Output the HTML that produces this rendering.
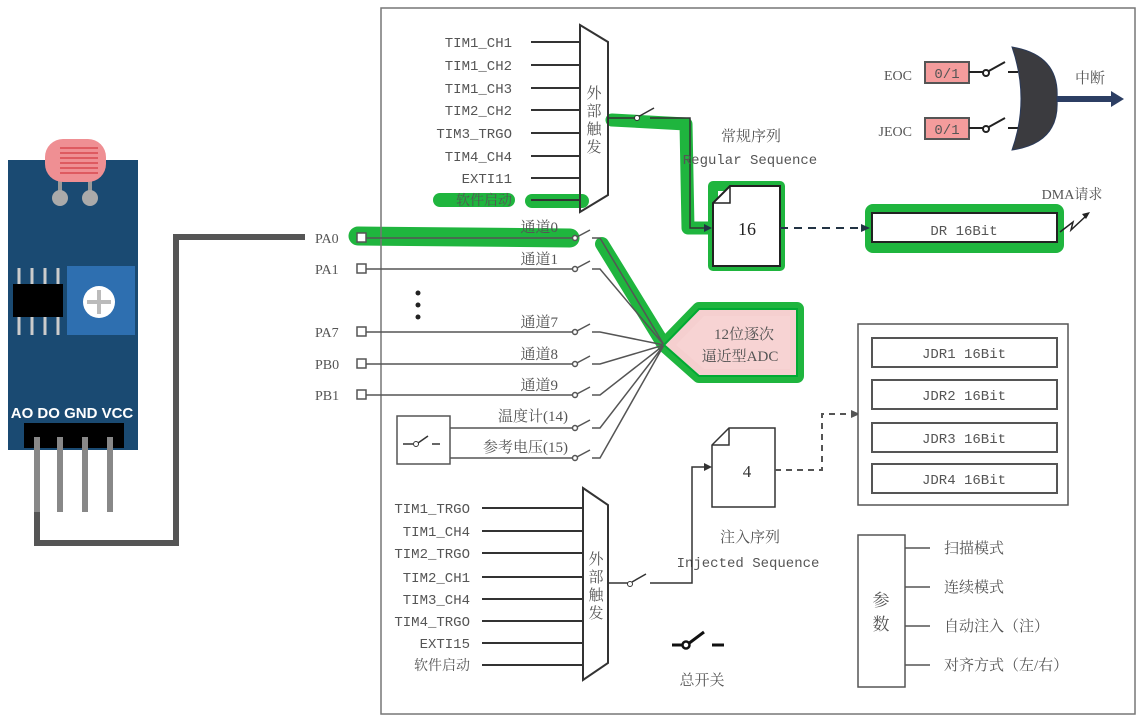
<!DOCTYPE html>
<html><head><meta charset="utf-8"><style>
html,body{margin:0;padding:0;background:#fff;width:1143px;height:720px;overflow:hidden}
svg text{font-family:"Liberation Serif","Noto Serif CJK SC","Noto Sans CJK SC",serif;fill:#555}
.m{font-family:"Liberation Mono","Noto Sans CJK SC",monospace}
</style></head><body>
<svg width="1143" height="720" viewBox="0 0 1143 720" xmlns="http://www.w3.org/2000/svg">
<!-- green highlights -->
<g fill="none" stroke="#1fb53e" stroke-linecap="round" stroke-linejoin="round">
<path d="M358 236 L570 238" stroke-width="19"/>
<path d="M440 200 L508 200" stroke-width="14"/>
<path d="M532 201 L582 201" stroke-width="14"/>
<path d="M612 120 L686 124 L688 228 L712 228" stroke-width="13"/>
<rect x="713" y="186" width="67" height="80" stroke-width="10"/>
<rect x="873" y="212" width="183" height="33" stroke-width="16"/>
<path d="M602 244 L664 345" stroke-width="14"/>
<path d="M664 345 L699 309 L797 309 L797 376 L699 376 Z" stroke-width="14"/>
</g>
<rect x="381" y="8" width="754" height="706" fill="none" stroke="#777" stroke-width="1.5"/>

<!-- sensor -->
<rect x="8" y="160" width="130" height="290" fill="#1a4a72"/>
<line x1="60" y1="180" x2="60" y2="198" stroke="#999" stroke-width="4"/>
<line x1="90" y1="180" x2="90" y2="198" stroke="#999" stroke-width="4"/>
<circle cx="60" cy="198" r="8" fill="#aaa"/><circle cx="90" cy="198" r="8" fill="#aaa"/>
<rect x="45" y="139" width="61" height="43" rx="18" fill="#ef8f93"/>
<g stroke="#d8484f" stroke-width="1.5"><line x1="60" y1="148" x2="98" y2="148"/><line x1="60" y1="153" x2="98" y2="153"/><line x1="60" y1="158" x2="98" y2="158"/><line x1="60" y1="163" x2="98" y2="163"/><line x1="60" y1="168" x2="98" y2="168"/><line x1="60" y1="173" x2="98" y2="173"/></g>
<g stroke="#ccc" stroke-width="3"><line x1="19" y1="268" x2="19" y2="335"/><line x1="32" y1="268" x2="32" y2="335"/><line x1="45" y1="268" x2="45" y2="335"/><line x1="58" y1="268" x2="58" y2="335"/></g>
<rect x="13" y="284" width="50" height="33" fill="#000"/>
<rect x="67" y="266" width="68" height="69" fill="#2e6fb0"/>
<circle cx="99" cy="302" r="16" fill="#fff"/>
<path d="M99 290 V314 M87 302 H111" stroke="#bbb" stroke-width="4"/>
<text x="72" y="418" text-anchor="middle" style="font-family:'Liberation Sans',sans-serif;font-weight:bold;font-size:15px;fill:#fff">AO DO GND VCC</text>
<rect x="24" y="423" width="100" height="25" fill="#000"/>
<g stroke="#888" stroke-width="6"><line x1="37" y1="437" x2="37" y2="512"/><line x1="60" y1="437" x2="60" y2="512"/><line x1="85" y1="437" x2="85" y2="512"/><line x1="110" y1="437" x2="110" y2="512"/></g>
<path d="M37 512 V543 H176 V237 H305" fill="none" stroke="#555" stroke-width="6"/>

<!-- upper mux -->
<g stroke="#333" stroke-width="2" fill="none">
<path d="M580 25 L608 42 L608 195 L580 212 Z" stroke-width="2"/>
<path d="M531 42H580M531 65H580M531 88H580M531 110H580M531 133H580M531 156H580M531 178H580M531 200H580"/>
<path d="M608 118 H636 M650 118 H690 V228 H708" stroke-width="1.5"/>
<path d="M636 118 L654 108" stroke-width="1.5"/>
</g>
<circle cx="637" cy="118" r="2.5" fill="#fff" stroke="#333"/>
<path d="M712 228 l-8 -4 v8z" fill="#234"/>
<g font-size="14" text-anchor="end" class="m">
<text x="512" y="47" class="m">TIM1_CH1</text><text x="512" y="70" class="m">TIM1_CH2</text><text x="512" y="93" class="m">TIM1_CH3</text><text x="512" y="115" class="m">TIM2_CH2</text><text x="512" y="138" class="m">TIM3_TRGO</text><text x="512" y="161" class="m">TIM4_CH4</text><text x="512" y="183" class="m">EXTI11</text><text x="512" y="205">软件启动</text>
</g>
<g font-size="15" text-anchor="middle"><text x="594" y="98">外</text><text x="594" y="116">部</text><text x="594" y="134">触</text><text x="594" y="152">发</text></g>
<text x="751" y="141" font-size="15" text-anchor="middle">常规序列</text>
<text x="750" y="164" font-size="14" text-anchor="middle" class="m">Regular Sequence</text>

<!-- box 16 -->
<path d="M730 186 H780 V266 H713 V203 Z" fill="#fff" stroke="#222" stroke-width="2"/>
<path d="M730 186 V203 H713" fill="none" stroke="#222" stroke-width="1.5"/>
<text x="747" y="235" font-size="18" text-anchor="middle" style="fill:#222">16</text>
<path d="M780 228 H862" stroke="#234" stroke-width="2" stroke-dasharray="8,6"/>
<path d="M870 228 l-9 -4 v8z" fill="#234"/>
<rect x="872" y="213" width="185" height="29" fill="#fff" stroke="#222" stroke-width="2"/>
<text x="964" y="235" font-size="14" text-anchor="middle" class="m">DR 16Bit</text>
<text x="1072" y="199" font-size="14" text-anchor="middle">DMA请求</text>
<path d="M1060 232 L1073 222 L1071 230 L1086 216" fill="none" stroke="#222" stroke-width="1.5"/>
<path d="M1090 212 l-8 2 l4 5z" fill="#222"/>

<!-- EOC / OR -->
<text x="912" y="80" font-size="14" text-anchor="end">EOC</text>
<text x="912" y="136" font-size="14" text-anchor="end">JEOC</text>
<rect x="925" y="62" width="44" height="21" fill="#f49c9c" stroke="#555" stroke-width="2"/>
<rect x="925" y="118" width="44" height="21" fill="#f49c9c" stroke="#555" stroke-width="2"/>
<text x="947" y="78" font-size="14" text-anchor="middle" class="m">0/1</text>
<text x="947" y="134" font-size="14" text-anchor="middle" class="m">0/1</text>
<g stroke="#222" stroke-width="2" fill="none">
<path d="M969 72 H983 M987 72 L1005 62 M1008 72 H1018"/>
<path d="M969 128 H983 M987 128 L1005 118 M1008 128 H1018"/>
</g>
<circle cx="986" cy="73" r="3" fill="#fff" stroke="#222" stroke-width="2"/>
<circle cx="986" cy="129" r="3" fill="#fff" stroke="#222" stroke-width="2"/>
<path d="M1012 47 Q1060 55 1057 99 Q1060 143 1012 150 Q1030 99 1012 47 Z" fill="#3b3b3f" stroke="#2a3a5a"/>
<path d="M1057 99 H1112" stroke="#2c3e63" stroke-width="6"/>
<path d="M1124 99 l-13 -8 v16z" fill="#2c3e63"/>
<text x="1090" y="83" font-size="15" text-anchor="middle">中断</text>

<!-- channels -->
<g font-size="14" class="m"><text x="315" y="243">PA0</text><text x="315" y="274">PA1</text><text x="315" y="337">PA7</text><text x="315" y="369">PB0</text><text x="315" y="400">PB1</text></g>
<g fill="#fff" stroke="#555" stroke-width="1.5">
<rect x="357" y="233" width="9" height="9"/><rect x="357" y="264" width="9" height="9"/><rect x="357" y="327" width="9" height="9"/><rect x="357" y="359" width="9" height="9"/><rect x="357" y="390" width="9" height="9"/>
</g>
<g stroke="#555" stroke-width="1.5" fill="none">
<path d="M366 238H573M366 269H573M366 332H573M366 364H573M366 395H573M450 428H573M450 458H573"/>
<path d="M575 238 L590 230 M575 269 L590 261 M575 332 L590 324 M575 364 L590 356 M575 395 L590 387 M575 428 L590 420 M575 458 L590 450"/>
<path d="M592 238H600L664 345M592 269H600L664 345M592 332H600L664 345M592 364H600L664 345M592 395H600L664 345M592 428H600L664 345M592 458H600L664 345"/>
</g>
<g fill="#fff" stroke="#555" stroke-width="1.5">
<circle cx="575" cy="238" r="2.5"/><circle cx="575" cy="269" r="2.5"/><circle cx="575" cy="332" r="2.5"/><circle cx="575" cy="364" r="2.5"/><circle cx="575" cy="395" r="2.5"/><circle cx="575" cy="428" r="2.5"/><circle cx="575" cy="458" r="2.5"/>
</g>
<g font-size="15" text-anchor="end"><text x="558" y="232">通道0</text><text x="558" y="264">通道1</text><text x="558" y="327">通道7</text><text x="558" y="359">通道8</text><text x="558" y="390">通道9</text><text x="568" y="421">温度计(14)</text><text x="568" y="452">参考电压(15)</text></g>
<circle cx="418" cy="293" r="2.5" fill="#222"/><circle cx="418" cy="305" r="2.5" fill="#222"/><circle cx="418" cy="317" r="2.5" fill="#222"/>
<rect x="397" y="416" width="53" height="48" fill="#fff" stroke="#555" stroke-width="1.5"/>
<path d="M403 444 H413 M418 443 L428 436 M432 444 H440" stroke="#333" stroke-width="1.5"/>
<circle cx="416" cy="444" r="2.5" fill="#fff" stroke="#333"/>

<!-- ADC -->
<path d="M664 345 L699 309 L797 309 L797 376 L699 376 Z" fill="#f5cfcf" stroke="#0a3" stroke-width="2"/>
<path d="M676 345 L704 316 L790 316 L790 369 L704 369 Z" fill="#f7d3d3"/>
<text x="744" y="339" font-size="15" text-anchor="middle">12位逐次</text>
<text x="740" y="361" font-size="15" text-anchor="middle">逼近型ADC</text>

<!-- injected -->
<path d="M729 428 H775 V507 H712 V445 Z" fill="#fff" stroke="#333" stroke-width="1.5"/>
<path d="M729 428 V445 H712" fill="none" stroke="#333" stroke-width="1.5"/>
<text x="747" y="477" font-size="17" text-anchor="middle" style="fill:#333">4</text>
<path d="M775 470 H822 V414 H852" fill="none" stroke="#555" stroke-width="2" stroke-dasharray="6,5"/>
<path d="M860 414 l-9 -4 v8z" fill="#555"/>
<rect x="858" y="324" width="210" height="181" fill="#fff" stroke="#555" stroke-width="1.5"/>
<g fill="#fff" stroke="#555" stroke-width="2"><rect x="872" y="338" width="185" height="29"/><rect x="872" y="380" width="185" height="29"/><rect x="872" y="423" width="185" height="29"/><rect x="872" y="464" width="185" height="29"/></g>
<g font-size="14" text-anchor="middle" class="m"><text x="964" y="358" class="m">JDR1 16Bit</text><text x="964" y="400" class="m">JDR2 16Bit</text><text x="964" y="443" class="m">JDR3 16Bit</text><text x="964" y="484" class="m">JDR4 16Bit</text></g>
<text x="750" y="542" font-size="15" text-anchor="middle">注入序列</text>
<text x="748" y="567" font-size="14" text-anchor="middle" class="m">Injected Sequence</text>

<!-- lower mux -->
<g stroke="#333" stroke-width="2" fill="none">
<path d="M583 488 L608 505 L608 663 L583 680 Z"/>
<path d="M482 508H583M482 531H583M482 553H583M482 577H583M482 599H583M482 621H583M482 643H583M482 665H583"/>
<path d="M608 583 H628 M632 582 L646 574 M650 583 H692 V467 H704" stroke-width="1.5"/>
</g>
<circle cx="630" cy="584" r="2.5" fill="#fff" stroke="#333"/>
<path d="M712 467 l-8 -4 v8z" fill="#333"/>
<g font-size="14" text-anchor="end" class="m"><text x="470" y="513" class="m">TIM1_TRGO</text><text x="470" y="536" class="m">TIM1_CH4</text><text x="470" y="558" class="m">TIM2_TRGO</text><text x="470" y="582" class="m">TIM2_CH1</text><text x="470" y="604" class="m">TIM3_CH4</text><text x="470" y="626" class="m">TIM4_TRGO</text><text x="470" y="648" class="m">EXTI15</text><text x="470" y="670">软件启动</text></g>
<g font-size="15" text-anchor="middle"><text x="596" y="564">外</text><text x="596" y="582">部</text><text x="596" y="600">触</text><text x="596" y="618">发</text></g>

<!-- master switch -->
<path d="M672 645 H684 M688 644 L704 632 M712 645 H724" stroke="#111" stroke-width="3"/>
<circle cx="686" cy="645" r="3.5" fill="#fff" stroke="#111" stroke-width="2.5"/>
<text x="702" y="685" font-size="15" text-anchor="middle">总开关</text>

<!-- params -->
<rect x="858" y="535" width="47" height="152" fill="#fff" stroke="#555" stroke-width="1.5"/>
<text x="881" y="606" font-size="17" text-anchor="middle">参</text>
<text x="881" y="630" font-size="17" text-anchor="middle">数</text>
<path d="M905 548H930M905 587H930M905 626H930M905 665H930" stroke="#555" stroke-width="1.5"/>
<g font-size="15"><text x="944" y="553">扫描模式</text><text x="944" y="592">连续模式</text><text x="944" y="631">自动注入（注）</text><text x="944" y="670">对齐方式（左/右）</text></g>
</svg>
</body></html>
